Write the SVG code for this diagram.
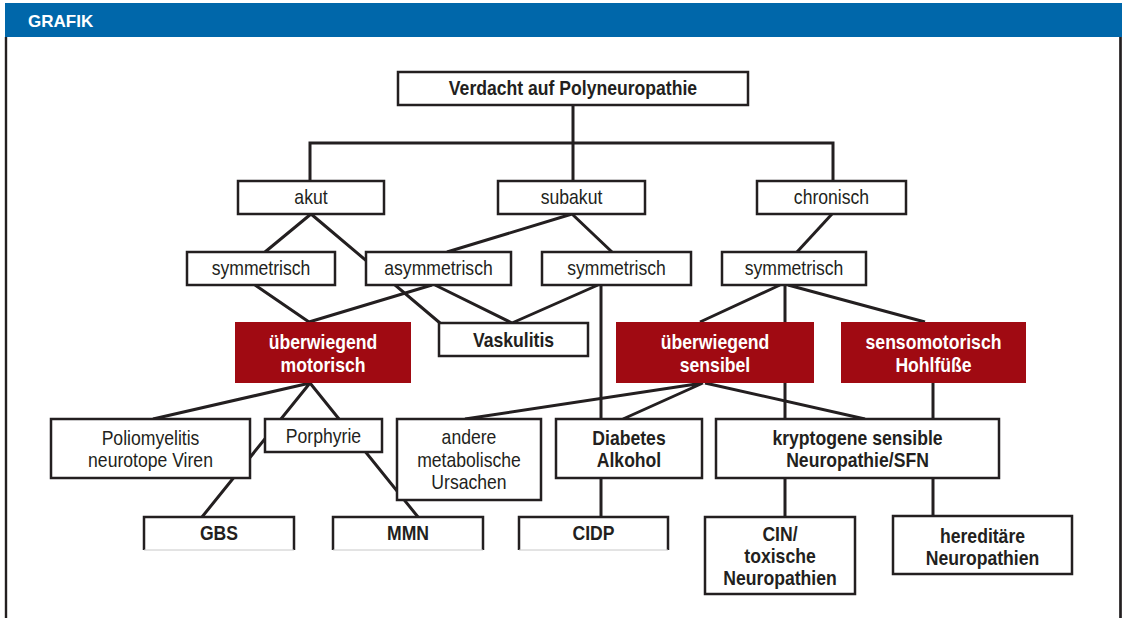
<svg xmlns="http://www.w3.org/2000/svg" width="1122" height="618" viewBox="0 0 1122 618">
<style>
.bx{fill:#fff;stroke:#231f20;stroke-width:2.5}
.rd{fill:#a00a12;stroke:none}
.ob{fill:#fff;stroke:none}
.os{fill:none;stroke:#231f20;stroke-width:2.5}
.ol{fill:none;stroke:#c8c8c8;stroke-width:1}
.t{font-family:"Liberation Sans Narrow","Liberation Sans",Arial,sans-serif;font-size:20px;fill:#231f20;text-anchor:middle}
.b{font-weight:bold}
.w{fill:#fff;font-weight:bold}
.cn{fill:none;stroke:#231f20;stroke-width:3}
</style>
<rect x="0" y="0" width="1122" height="618" fill="#fff"/>
<g id="frame">
<rect x="5" y="3" width="1117" height="34" fill="#0067aa"/>
<text x="28" y="27" font-family="'Liberation Sans',Arial,sans-serif" font-size="17" font-weight="bold" fill="#fff">GRAFIK</text>
<line x1="6" y1="37" x2="6" y2="618" stroke="#231f20" stroke-width="2.4"/>
<line x1="1120.5" y1="37" x2="1120.5" y2="618" stroke="#231f20" stroke-width="2.7"/>
</g>
<g id="connectors" class="cn">
<path d="M573,105 V143 M310,181 V143 H833 V181 M573,143 V181"/>
<path d="M311,214 L265,252 M311,214 L440,323"/>
<path d="M572,214 L447,252 M572,214 L612,252"/>
<path d="M255,285 L309,322 M432,285 L309,322"/>
<path d="M435,285 L512,323 M598,285 L512,323"/>
<path d="M601,285 V517"/>
<path d="M832,214 L797,252"/>
<path d="M780,285 L700,322 M785,285 V517 M788,285 L925,322"/>
<path d="M310,383 L153,419 M310,383 L418,517 M310,383 L202,517"/>
<path d="M703,383 L465,419 M703,383 L623,419 M705,383 L865,419"/>
<path d="M933,383 V516"/>
</g>
<g id="n-verdacht"><rect class="bx" x="398" y="72" width="350" height="33"/><g transform="translate(573 0) scale(0.88 1)"><text class="t b" x="0" y="95">Verdacht auf Polyneuropathie</text></g></g>
<g id="n-akut"><rect class="bx" x="238" y="181" width="146" height="33"/><g transform="translate(311 0) scale(0.88 1)"><text class="t" x="0" y="204">akut</text></g></g>
<g id="n-subakut"><rect class="bx" x="498" y="181" width="147" height="33"/><g transform="translate(571.5 0) scale(0.88 1)"><text class="t" x="0" y="204">subakut</text></g></g>
<g id="n-chronisch"><rect class="bx" x="757" y="181" width="149" height="33"/><g transform="translate(831.5 0) scale(0.88 1)"><text class="t" x="0" y="204">chronisch</text></g></g>
<g id="n-sym1"><rect class="bx" x="187" y="252" width="148" height="33"/><g transform="translate(261 0) scale(0.88 1)"><text class="t" x="0" y="275">symmetrisch</text></g></g>
<g id="n-asym"><rect class="bx" x="366" y="252" width="145" height="33"/><g transform="translate(438.5 0) scale(0.88 1)"><text class="t" x="0" y="275">asymmetrisch</text></g></g>
<g id="n-sym2"><rect class="bx" x="542" y="252" width="149" height="33"/><g transform="translate(616.5 0) scale(0.88 1)"><text class="t" x="0" y="275">symmetrisch</text></g></g>
<g id="n-sym3"><rect class="bx" x="722" y="252" width="144" height="33"/><g transform="translate(794 0) scale(0.88 1)"><text class="t" x="0" y="275">symmetrisch</text></g></g>
<g id="n-motorisch"><rect class="rd" x="235" y="322" width="176" height="61"/><g transform="translate(323 0) scale(0.88 1)"><text class="t w" x="0" y="349">überwiegend</text><text class="t w" x="0" y="372">motorisch</text></g></g>
<g id="n-vaskulitis"><rect class="bx" x="439" y="323" width="149" height="33"/><g transform="translate(513.5 0) scale(0.88 1)"><text class="t b" x="0" y="347">Vaskulitis</text></g></g>
<g id="n-sensibel"><rect class="rd" x="616" y="322" width="198" height="61"/><g transform="translate(715 0) scale(0.88 1)"><text class="t w" x="0" y="349">überwiegend</text><text class="t w" x="0" y="372">sensibel</text></g></g>
<g id="n-hohlfuesse"><rect class="rd" x="841" y="322" width="185" height="61"/><g transform="translate(933.5 0) scale(0.88 1)"><text class="t w" x="0" y="349">sensomotorisch</text><text class="t w" x="0" y="372">Hohlfüße</text></g></g>
<g id="n-polio"><rect class="bx" x="51" y="419" width="199" height="59"/><g transform="translate(150.5 0) scale(0.88 1)"><text class="t" x="0" y="445">Poliomyelitis</text><text class="t" x="0" y="467">neurotope Viren</text></g></g>
<g id="n-porphyrie"><rect class="bx" x="265" y="419" width="117" height="33"/><g transform="translate(323.5 0) scale(0.88 1)"><text class="t" x="0" y="443">Porphyrie</text></g></g>
<g id="n-andere"><rect class="bx" x="397" y="419" width="144" height="81"/><g transform="translate(469 0) scale(0.88 1)"><text class="t" x="0" y="444">andere</text><text class="t" x="0" y="467">metabolische</text><text class="t" x="0" y="489">Ursachen</text></g></g>
<g id="n-diabetes"><rect class="bx" x="556" y="419" width="146" height="59"/><g transform="translate(629 0) scale(0.88 1)"><text class="t b" x="0" y="445">Diabetes</text><text class="t b" x="0" y="467">Alkohol</text></g></g>
<g id="n-kryptogen"><rect class="bx" x="716" y="419" width="283" height="59"/><g transform="translate(857.5 0) scale(0.88 1)"><text class="t b" x="0" y="445">kryptogene sensible</text><text class="t b" x="0" y="467">Neuropathie/SFN</text></g></g>
<g id="n-gbs"><rect class="ob" x="144" y="517" width="150" height="33"/><path class="os" d="M144,550 V517 H294 V550"/><path class="ol" d="M144,550 H294"/><g transform="translate(219 0) scale(0.88 1)"><text class="t b" x="0" y="540">GBS</text></g></g>
<g id="n-mmn"><rect class="ob" x="333" y="517" width="150" height="33"/><path class="os" d="M333,550 V517 H483 V550"/><path class="ol" d="M333,550 H483"/><g transform="translate(408 0) scale(0.88 1)"><text class="t b" x="0" y="540">MMN</text></g></g>
<g id="n-cidp"><rect class="ob" x="519" y="517" width="149" height="33"/><path class="os" d="M519,550 V517 H668 V550"/><path class="ol" d="M519,550 H668"/><g transform="translate(593.5 0) scale(0.88 1)"><text class="t b" x="0" y="540">CIDP</text></g></g>
<g id="n-cin"><rect class="bx" x="705" y="517" width="150" height="77"/><g transform="translate(780 0) scale(0.88 1)"><text class="t b" x="0" y="541">CIN/</text><text class="t b" x="0" y="563">toxische</text><text class="t b" x="0" y="585">Neuropathien</text></g></g>
<g id="n-hereditaer"><rect class="bx" x="893" y="516" width="179" height="58"/><g transform="translate(982.5 0) scale(0.88 1)"><text class="t b" x="0" y="543">hereditäre</text><text class="t b" x="0" y="565">Neuropathien</text></g></g>
</svg>
